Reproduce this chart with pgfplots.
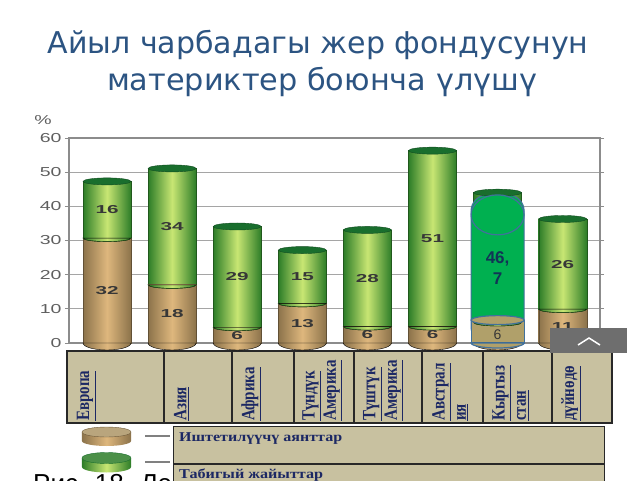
\documentclass[border=0pt]{standalone}
\usepackage{graphicx}
\usepackage{fontspec}
\usepackage{pgfplots}
\pgfplotsset{compat=1.18}
\usepackage{pgfplotstable}
\usetikzlibrary{calc,backgrounds}
\setmainfont{Liberation Serif}
\newfontfamily\titlefont{DejaVu Sans}
\newfontfamily\arialfont{Liberation Sans}
\newfontfamily\catfont{Liberation Serif}

\definecolor{titleblue}{RGB}{44,84,130}
\definecolor{tabbg}{RGB}{200,193,160}
\definecolor{tabline}{RGB}{40,40,40}
\definecolor{navy}{RGB}{28,40,100}
\definecolor{axgray}{RGB}{140,140,140}
\definecolor{gridgray}{RGB}{165,165,165}
\definecolor{labgray}{RGB}{95,95,95}
\definecolor{grE}{RGB}{45,125,40}
\definecolor{grC}{RGB}{200,230,115}
\definecolor{grT}{RGB}{25,110,45}
\definecolor{brE}{RGB}{140,115,75}
\definecolor{brC}{RGB}{222,183,125}
\definecolor{brT}{RGB}{185,165,125}
\definecolor{kgreen}{RGB}{0,176,80}
\definecolor{kblue}{RGB}{65,113,156}
\definecolor{kolive}{RGB}{176,160,106}
\definecolor{kdark}{RGB}{18,52,86}
\definecolor{btn}{RGB}{110,110,110}
\definecolor{numgray}{RGB}{55,55,55}

\pgfdeclareplotmark{cyltop}{\filldraw[fill=grT, draw=grT!70!black, line width=0.4pt] (0pt,0pt) ellipse [x radius=24pt, y radius=3.5pt];}
\pgfdeclareplotmark{cylmid}{\shade[left color=grE, right color=grE, middle color=grC] (-24pt,0pt) arc[start angle=180, end angle=360, x radius=24pt, y radius=3.5pt] -- cycle;
  \draw[grE!70!black, line width=0.4pt] (-24pt,0pt) arc[start angle=180, end angle=360, x radius=24pt, y radius=3.5pt];}
\pgfdeclareplotmark{cylbot}{\shade[left color=brE, right color=brE, middle color=brC] (-24pt,0pt) arc[start angle=180, end angle=360, x radius=24pt, y radius=7pt] -- cycle;}
\pgfdeclareplotmark{kyrtop}{\filldraw[fill=kgreen, draw=kblue, line width=1.2pt] (0pt,0pt) ellipse [x radius=26.5pt, y radius=20pt];}
\pgfdeclareplotmark{kyrbr}{\filldraw[fill=kolive, draw=kblue, line width=1.2pt] (0pt,0pt) ellipse [x radius=26.5pt, y radius=4.5pt];}
\pgfdeclareplotmark{kyrbot}{\filldraw[fill=kolive, draw=kblue, line width=1.2pt] (-26.5pt,0pt) arc[start angle=180, end angle=360, x radius=26.5pt, y radius=5pt] -- cycle;}

\newcommand{\cl}[1]{\scalebox{1.25}[1]{\rotatebox{90}{\catfont\bfseries\fontsize{15}{17}\selectfont\begin{tabular}{@{}l@{}}#1\end{tabular}}}}
\newcommand{\numfont}{\arialfont\bfseries\fontsize{11.5}{12}\selectfont}

\pgfplotstableread{
x b g lb lg
0 30.7 16.6 32 16
1 17.0 34.1 18 34
2 4.6 29.5 6 29
3 11.6 15.6 13 15
4 4.8 28.3 6 28
5 4.8 51.5 6 51
6 6.0 38.0 6 46.7
7 9.9 26.4 11 26
}\data

\begin{document}
\begin{tikzpicture}[x=1pt,y=1pt]
\begin{axis}[
  scale only axis,
  width=531pt, height=205pt,
  xmin=-0.584, xmax=7.573, ymin=0, ymax=60, clip=false,
  axis line style={draw=axgray, line width=1.4pt},
  ymajorgrids, grid style={draw=gridgray, line width=1pt},
  ytick={0,10,20,30,40,50,60},
  yticklabel={\scalebox{1.5}[1]{\pgfmathprintnumber[assume math mode=true]{\tick}}},
  yticklabel style={font=\arialfont\fontsize{13}{13}\selectfont, text=labgray},
  ytick style={draw=axgray, line width=1pt},
  tick align=outside, major tick length=4pt,
  xtick={-0.338,1.152,2.20,3.287,4.224,5.284,6.206,7.112},
  xticklabels={
    {\cl{\underline{Европа}}},
    {\cl{\underline{Азия}}},
    {\cl{\underline{Африка}}},
    {\cl{\underline{Түндүк}\\\underline{Америка}}},
    {\cl{\underline{Түштүк}\\\underline{Америка}}},
    {\cl{\underline{Австрал}\\\underline{ия}}},
    {\cl{\underline{Кыргыз}\\\underline{стан}}},
    {\cl{\underline{дүйнөдө}}}},
  xtick style={draw=none},
  xticklabel style={anchor=south, yshift=-74pt, inner sep=0pt, text=navy},
]
\coordinate (O) at (axis cs:-0.584,0);
% green cylinders (full height), one path per bar so each has its own shading
\pgfplotsinvokeforeach{0,...,7}{
\addplot[ybar, bar width=48pt, bar shift=0pt, draw=grE!70!black, line width=0.4pt,
  left color=grE, right color=grE, middle color=grC,
  restrict expr to domain={\coordindex}{#1:#1}]
  table[x=x, y expr=\thisrow{b}+\thisrow{g}] {\data};
}
\addplot[only marks, mark=cyltop] table[x=x, y expr=\thisrow{b}+\thisrow{g}] {\data};
% brown part
\pgfplotsinvokeforeach{0,...,7}{
\addplot[ybar, bar width=48pt, bar shift=0pt, draw=brE!70!black, line width=0.4pt,
  left color=brE, right color=brE, middle color=brC,
  restrict expr to domain={\coordindex}{#1:#1}]
  table[x=x, y=b] {\data};
}
\addplot[only marks, mark=cylmid] table[x=x, y=b] {\data};
\addplot[only marks, mark=cylbot] coordinates {(0,0) (1,0) (2,0) (3,0) (4,0) (5,0) (6,0) (7,0)};
% Kyrgyzstan highlighted
\addplot[ybar, bar width=53pt, bar shift=0pt, fill=kgreen, draw=kblue, line width=1.2pt, rounded corners=16pt]
  coordinates {(6,43.3)};
\addplot[only marks, mark=kyrtop] coordinates {(6,37.5)};
\addplot[ybar, bar width=53pt, bar shift=0pt, fill=kolive, draw=kblue, line width=1.2pt]
  coordinates {(6,6.7)};
\addplot[only marks, mark=kyrbot] coordinates {(6,0)};
\addplot[only marks, mark=kyrbr] coordinates {(6,6.7)};
% value labels
\addplot[draw=none, mark=none, point meta=explicit symbolic,
  nodes near coords={\scalebox{1.8}[1]{\pgfplotspointmeta}},
  nodes near coords style={anchor=center, font=\numfont, text=numgray},
  skip coords between index={6}{7}]
  table[x=x, y expr=\thisrow{b}/2, meta=lb] {\data};
\addplot[draw=none, mark=none, point meta=explicit symbolic,
  nodes near coords={\scalebox{1.8}[1]{\pgfplotspointmeta}},
  nodes near coords style={anchor=center, font=\numfont, text=numgray},
  skip coords between index={6}{7}]
  table[x=x, y expr=\thisrow{b}+\thisrow{g}/2, meta=lg] {\data};
\addplot[draw=none, mark=none, nodes near coords={46,\\7},
  nodes near coords style={anchor=center, align=center, text=kdark,
    font=\arialfont\bfseries\fontsize{17}{21}\selectfont}]
  coordinates {(6,21.8)};
\addplot[draw=none, mark=none, nodes near coords={6},
  nodes near coords style={anchor=center, text=numgray,
    font=\arialfont\fontsize{14}{14}\selectfont}]
  coordinates {(6,2.3)};
\end{axis}

\begin{scope}[shift={($(O)-(69,137)$)}]
% table of categories (behind the axis)
\begin{scope}[on background layer]
\fill[tabbg] (67,57) rectangle (612,129);
\draw[tabline, line width=1.2pt] (67,57) rectangle (612,129);
\foreach \xx in {164,232,294,354,422,483,552} \draw[tabline, line width=1.2pt] (\xx,57)--(\xx,129);
\end{scope}
% title
\node[anchor=base, text=titleblue, inner sep=0pt] at (318,427)
  {\resizebox{541pt}{\height}{\titlefont\fontsize{30}{36}\selectfont Айыл чарбадагы жер фондусунун}};
\node[anchor=base, text=titleblue, inner sep=0pt] at (322,390)
  {\resizebox{430pt}{\height}{\titlefont\fontsize{30}{36}\selectfont материктер боюнча үлүшү}};
% percent sign
\node[text=labgray, inner sep=0pt] at (43,360) {\scalebox{1.5}[1]{\arialfont\fontsize{13}{13}\selectfont\%}};
% scroll button
\fill[btn] (550,127) rectangle (627,152);
\draw[white, line width=1.5pt] (578,135)--(589,142)--(600,135);
% legend
\fill[tabbg] (173,-2) rectangle (604,54);
\draw[tabline, line width=1pt] (173,-2)--(173,54)--(604,54)--(604,-2);
\draw[tabline, line width=1.2pt] (173,16)--(604,16);
\node[anchor=base west, inner sep=0pt, text=navy] at (179,39)
  {\resizebox{163pt}{\height}{\catfont\bfseries\fontsize{13.5}{15}\selectfont Иштетилүүчү аянттар}};
\node[anchor=base west, inner sep=0pt, text=navy] at (179,2)
  {\resizebox{144pt}{\height}{\catfont\bfseries\fontsize{13.5}{15}\selectfont Табигый жайыттар}};
% legend icons
\shade[left color=brE, right color=brE, middle color=brC] (82,48) -- (82,39) arc[start angle=180, end angle=360, x radius=24.5, y radius=5] -- (131,48) -- cycle;
\filldraw[fill=brT, draw=brE!80!black, line width=0.4pt] (106.5,48) ellipse [x radius=24.5, y radius=5];
\shade[left color=grE, right color=grE, middle color=grC] (82,22) -- (82,13) arc[start angle=180, end angle=360, x radius=24.5, y radius=5.5] -- (131,22) -- cycle;
\filldraw[fill=grE!85!white, draw=grT, line width=0.4pt] (106.5,22) ellipse [x radius=24.5, y radius=5.5];
\draw[gray, line width=1.5pt] (145,44)--(170,44);
\draw[gray, line width=1.5pt] (145,18)--(170,18);
% cut caption
\node[anchor=base west, inner sep=0pt] at (33,-12) {\arialfont\fontsize{26}{26}\selectfont Рис. 18. Ле};
\pgfresetboundingbox
\useasboundingbox (0,0) rectangle (640,480);
\end{scope}
\end{tikzpicture}
\end{document}
